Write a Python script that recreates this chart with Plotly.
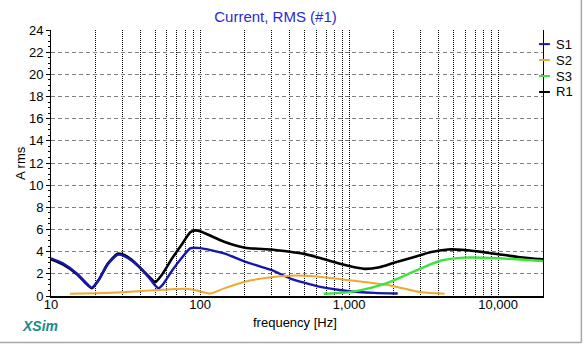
import plotly.graph_objects as go

# R1 current (A rms)
freq_r1 = [10, 12, 15, 17, 18.8, 21, 24, 28, 31, 36, 42, 47, 50, 56, 65, 75, 86, 93, 100,
           145, 200, 300, 400, 500, 630, 800, 1000, 1270, 1600, 2000, 2700, 3500, 4600,
           6000, 8000, 10000, 14000, 20000]
r1 = [3.3, 2.85, 1.95, 1.2, 0.7, 1.5, 2.9, 3.82, 3.7, 3.1, 2.2, 1.55, 1.25, 2.0, 3.4, 4.6,
      5.75, 5.92, 5.85, 4.9, 4.36, 4.2, 4.0, 3.8, 3.45, 3.05, 2.7, 2.45, 2.6, 3.0, 3.5, 3.95,
      4.2, 4.15, 3.95, 3.77, 3.5, 3.3]

# S1 current
freq_s1 = [10, 12, 15, 17, 18.8, 21, 24, 28, 31, 36, 42, 47, 50, 52.7, 56, 65, 75, 86, 100,
           145, 200, 300, 400, 500, 630, 977, 1476, 2120]
s1 = [3.4, 2.95, 2.0, 1.25, 0.75, 1.5, 2.85, 3.72, 3.6, 3.05, 2.2, 1.4, 0.95, 0.7, 1.0, 2.3,
      3.4, 4.3, 4.32, 3.85, 3.1, 2.35, 1.6, 1.2, 0.84, 0.45, 0.28, 0.22]

# S2 current
freq_s2 = [13.4, 20, 30, 40, 50, 65, 80, 95, 117, 145, 200, 300, 400, 500, 630, 977, 1910,
           3040, 4370]
s2 = [0.2, 0.25, 0.33, 0.45, 0.52, 0.62, 0.65, 0.5, 0.22, 0.69, 1.29, 1.69, 1.83, 1.83, 1.74,
      1.44, 0.93, 0.33, 0.2]

# S3 current
freq_s3 = [676, 1000, 1265, 1600, 2013, 2500, 3040, 4150, 5960, 8000, 10000, 14000, 20000]
s3 = [0.2, 0.35, 0.6, 0.95, 1.44, 2.0, 2.5, 3.2, 3.46, 3.45, 3.4, 3.3, 3.16]

series = [
    ("R1", freq_r1, r1, "#000000", 2.6),
    ("S1", freq_s1, s1, "#1616b0", 2.4),
    ("S2", freq_s2, s2, "#f0a830", 2.0),
    ("S3", freq_s3, s3, "#3ce43c", 2.4),
]
legend_order = ["S1", "S2", "S3", "R1"]

# Log-axis grid positions: every 1..9 multiple per decade
tick_vals, tick_text = [], []
for dec in [10, 100, 1000, 10000]:
    for m in range(1, 10):
        v = dec * m
        if v > 20000:
            break
        tick_vals.append(v)
        tick_text.append(f"{v:,}" if m == 1 else "")

fig = go.Figure()
for name, fx, fy, col, w in series:
    fig.add_trace(go.Scatter(x=fx, y=fy, mode="lines", name=name,
                             line=dict(color=col, width=w, shape="spline", smoothing=0.6),
                             showlegend=False))

font = "Liberation Sans, Arial, sans-serif"
fig.update_layout(
    width=585, height=345,
    margin=dict(l=51, r=42, t=30, b=49),
    paper_bgcolor="white", plot_bgcolor="white",
    font=dict(family=font, size=13, color="black"),
    title=dict(text="Current, RMS (#1)", x=275.5 / 585, xref="container", xanchor="center",
               y=1 - 17 / 345, yanchor="middle",
               font=dict(family=font, size=15, color="#2a2ad0")),
    xaxis=dict(type="log", range=[1, 4.301], tickvals=tick_vals, ticktext=tick_text,
               showgrid=True, gridcolor="#000000", griddash="1px,1px", gridwidth=1,
               showline=True, linecolor="black", linewidth=1.5, ticks="",
               ticklabelstandoff=-4, zeroline=False, tickfont=dict(size=13)),
    yaxis=dict(range=[0, 24], dtick=2, showgrid=True, gridcolor="#808080", griddash="4px,3px",
               gridwidth=1, showline=True, mirror=True, linecolor="black", linewidth=1,
               ticks="outside", ticklen=4, tickcolor="black", zeroline=False,
               minor=dict(dtick=0.5, ticks="outside", ticklen=2, tickcolor="black",
                          showgrid=False),
               tickfont=dict(size=13)),
)

# Legend at the right axis: short line plus label
leg_y = [0.947, 0.887, 0.827, 0.767]
colors = {n: c for n, _, _, c, _ in series}
for name, yy in zip(legend_order, leg_y):
    fig.add_shape(type="line", xref="paper", yref="paper", x0=0.992, x1=1.014, y0=yy, y1=yy,
                  line=dict(color=colors[name], width=2))
    fig.add_annotation(text=name, xref="paper", yref="paper", x=1.022, y=yy, xanchor="left",
                       yanchor="middle", showarrow=False, font=dict(size=13, color="black"))

fig.add_annotation(text="frequency [Hz]", xref="paper", yref="paper", x=0.496, y=-0.1015,
                   xanchor="center", yanchor="middle", showarrow=False,
                   font=dict(size=13, color="black"))
fig.add_annotation(text="A rms", xref="paper", yref="paper", x=-0.063, y=0.5, textangle=-90,
                   xanchor="center", yanchor="middle", showarrow=False,
                   font=dict(size=13, color="black"))
fig.add_annotation(text="<b><i>XSim</i></b>", xref="paper", yref="paper", x=-0.064, y=-0.113,
                   xanchor="left", yanchor="middle", showarrow=False,
                   font=dict(size=14, color="#1a8c8c"))

# Panel border (right and bottom edges)
fig.add_shape(type="line", xref="paper", yref="paper", x0=-0.11, x1=1.078, y0=-0.1748,
              y1=-0.1748, line=dict(color="#a8a8a8", width=1.5))
fig.add_shape(type="line", xref="paper", yref="paper", x0=1.078, x1=1.078, y0=-0.1748,
              y1=1.12, line=dict(color="#a8a8a8", width=1.5))

fig.write_html("out.html")
